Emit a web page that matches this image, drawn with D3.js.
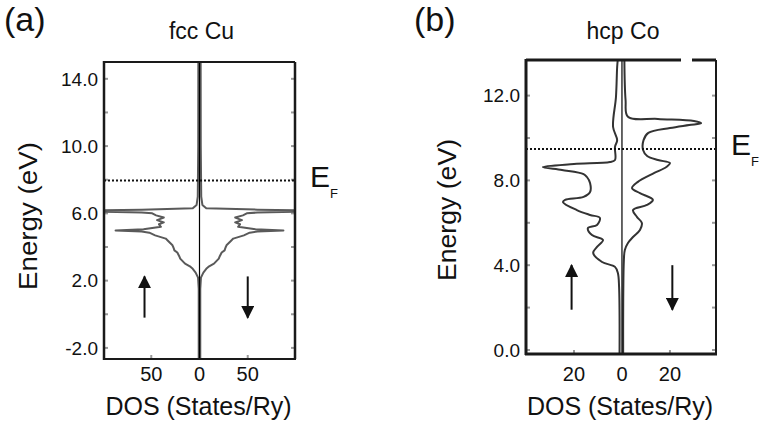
<!DOCTYPE html>
<html lang="en">
<head>
<meta charset="utf-8">
<title>DOS fcc Cu / hcp Co</title>
<script src="https://d3js.org/d3.v7.min.js"></script>
<style>
  body { margin: 0; background: #fff; }
  svg text { font-family: "Liberation Sans", Arial, sans-serif; fill: #111; }
</style>
</head>
<body>
<div id="canvas"></div>
<script>
// ---- data ----
// fcc Cu, same curve for both spins (energy eV, DOS states/Ry)
var cuEnergy = [15.0, 10.0, 7.0, 6.5, 6.3, 6.22, 6.16, 6.1, 6.05, 6.0, 5.88, 5.75, 5.6, 5.46, 5.35, 5.2, 5.05, 4.98, 4.92, 4.85, 4.69, 4.5, 4.39, 4.1, 3.97, 3.8, 3.67, 3.45, 3.31, 3.01, 2.85, 2.7, 2.48, 2.18, 1.5, -2.7];
var cuDos    = [1.2, 1.3, 1.8, 3.0, 7, 60, 115, 100, 60, 49, 45, 37, 44, 37, 42, 40, 58, 87, 60, 52, 46, 35, 33, 28, 27, 26, 23, 21, 20, 15, 10, 7, 4, 1.5, 0.8, 0.8];
// hcp Co, spin up (left)
var coUpEnergy = [13.75, 13.35, 11.93, 10.52, 9.9, 9.58, 8.96, 8.87, 8.77, 8.63, 8.49, 8.3, 8.16, 7.88, 7.45, 7.22, 7.08, 6.98, 6.6, 6.37, 6.23, 5.9, 5.75, 5.42, 5.19, 4.86, 4.58, 4.15, 3.92, 3.63, 2.97, -0.2];
var coUpDos    = [1.7, 2.0, 2.5, 3.7, 2.0, 2.9, 2.9, 5, 20, 33, 25, 16, 14.6, 13.3, 13.3, 16, 23.7, 24.6, 18.8, 13.3, 9.2, 10.4, 14.2, 12.5, 7.9, 10.4, 12, 8.3, 2.9, 1.7, 1.2, 1.0];
// hcp Co, spin down (right)
var coDownEnergy = [13.75, 11.8, 11.0, 10.9, 10.8, 10.7, 10.61, 10.47, 10.24, 9.9, 9.43, 9.15, 8.96, 8.82, 8.63, 8.35, 7.92, 7.64, 7.4, 7.08, 6.84, 6.6, 6.27, 5.99, 5.66, 5.33, 5.05, 4.72, 4.25, -0.2];
var coDownDos    = [1.0, 1.5, 2.5, 15, 30, 33, 28, 20, 11, 9, 8.8, 10.5, 15, 20, 18.5, 13.5, 6.5, 4.2, 7.5, 12.9, 10.4, 4.6, 6.3, 8.3, 7.5, 4.6, 2.5, 1.2, 0.8, 0.5];

var cuYTicks = [14, 10, 6, 2, -2];
var cuYMinor = [14, 12, 10, 8, 6, 4, 2, 0, -2];
var cuXTicks = [-50, 0, 50];
var coYTicks = [12, 8, 4, 0];
var coYMinor = [12, 10, 8, 6, 4, 2, 0];
var coXTicks = [-20, 0, 20];

var cuFermi = 7.95;
var coFermi = 9.48;

function pts(es, ds) {
    return es.map(function(e, i) { return {e: e, d: ds[i]}; });
}

var width = 760, height = 427;
var svg = d3.select("#canvas").append("svg")
    .attr("width", width)
    .attr("height", height);

var panels = [
    {
        id: "a", letter: "(a)", title: "fcc Cu", letterX: 4,
        left: 104, right: 295, top: 62, bottom: 359,
        xDomain: [-99, 99], yDomain: [-2.66, 15.0],
        yTicks: cuYTicks, yMinor: cuYMinor, xTicks: cuXTicks,
        fermi: cuFermi,
        up: pts(cuEnergy, cuDos), down: pts(cuEnergy, cuDos),
        curve: d3.curveLinear, curveColor: "#5a5a5a",
        arrowX: [-57, 50], arrowE: [-0.2, 2.25],
        yLabelX: 37, yLabelY: 216, yLabelLen: 148, frameW: [2, 2.5, 2, 2.5],
        efX: 310, efY: 187
    },
    {
        id: "b", letter: "(b)", title: "hcp Co", letterX: 414,
        left: 526, right: 716, top: 60, bottom: 354,
        xDomain: [-40, 39.2], yDomain: [-0.19, 13.68],
        yTicks: coYTicks, yMinor: coYMinor, xTicks: coXTicks,
        fermi: coFermi,
        up: pts(coUpEnergy, coUpDos), down: pts(coDownEnergy, coDownDos),
        curve: d3.curveCatmullRom.alpha(0.5), curveColor: "#333",
        arrowX: [-21, 21], arrowE: [1.9, 4.0],
        yLabelX: 456, yLabelY: 210, yLabelLen: 142, frameW: [3, 2, 3, 3],
        efX: 731, efY: 155
    }
];

// arrow head marker
svg.append("defs").append("marker")
    .attr("id", "head")
    .attr("viewBox", "0 0 10 10")
    .attr("refX", 9).attr("refY", 5)
    .attr("markerWidth", 6.5).attr("markerHeight", 6.5)
    .attr("markerUnits", "strokeWidth")
    .attr("orient", "auto")
    .append("path").attr("d", "M0,0 L10,5 L0,10 Z").attr("fill", "#111");

var fmt = d3.format(".1f");

panels.forEach(function(p) {
    var x = d3.scaleLinear().domain(p.xDomain).range([p.left, p.right]);
    var y = d3.scaleLinear().domain(p.yDomain).range([p.bottom, p.top]);
    var g = svg.append("g").attr("id", "panel-" + p.id);

    g.append("clipPath").attr("id", "clip-" + p.id)
        .append("rect")
        .attr("x", p.left).attr("y", p.top)
        .attr("width", p.right - p.left).attr("height", p.bottom - p.top);

    // minor ticks inside the frame, left and right
    p.yMinor.forEach(function(t) {
        g.append("line").attr("x1", p.left).attr("x2", p.left + 4)
            .attr("y1", y(t)).attr("y2", y(t))
            .attr("stroke", "#999").attr("stroke-width", 2);
        g.append("line").attr("x1", p.right - 4).attr("x2", p.right)
            .attr("y1", y(t)).attr("y2", y(t))
            .attr("stroke", "#999").attr("stroke-width", 2);
    });
    p.xTicks.filter(function(t) { return t != 0; }).forEach(function(t) {
        g.append("line").attr("x1", x(t)).attr("x2", x(t))
            .attr("y1", p.bottom - 4).attr("y2", p.bottom)
            .attr("stroke", "#999").attr("stroke-width", 2);
    });

    // DOS curves, spin up to the left, spin down to the right
    var lineUp = d3.line().curve(p.curve)
        .x(function(d) { return x(-d.d); })
        .y(function(d) { return y(d.e); });
    var lineDown = d3.line().curve(p.curve)
        .x(function(d) { return x(d.d); })
        .y(function(d) { return y(d.e); });
    var curves = g.append("g").attr("clip-path", "url(#clip-" + p.id + ")");
    curves.append("path").attr("d", lineUp(p.up))
        .attr("fill", "none").attr("stroke", p.curveColor).attr("stroke-width", 2)
        .attr("stroke-linejoin", "round");
    curves.append("path").attr("d", lineDown(p.down))
        .attr("fill", "none").attr("stroke", p.curveColor).attr("stroke-width", 2)
        .attr("stroke-linejoin", "round");

    // zero line
    g.append("line").attr("x1", x(0)).attr("x2", x(0))
        .attr("y1", p.top).attr("y2", p.bottom)
        .attr("stroke", "#000").attr("stroke-width", 1.2);

    // Fermi level
    g.append("line").attr("x1", p.left).attr("x2", p.right)
        .attr("y1", y(p.fermi)).attr("y2", y(p.fermi))
        .attr("stroke", "#111").attr("stroke-width", 2)
        .attr("stroke-dasharray", "2,2");

    // frame: top, right, bottom, left
    var fw = p.frameW;
    g.append("line").attr("x1", p.left).attr("x2", p.right).attr("y1", p.top).attr("y2", p.top)
        .attr("stroke", "#1a1a1a").attr("stroke-width", fw[0]);
    g.append("line").attr("x1", p.right).attr("x2", p.right).attr("y1", p.top).attr("y2", p.bottom)
        .attr("stroke", "#1a1a1a").attr("stroke-width", fw[1]);
    g.append("line").attr("x1", p.left - 1).attr("x2", p.right + 1).attr("y1", p.bottom).attr("y2", p.bottom)
        .attr("stroke", "#1a1a1a").attr("stroke-width", fw[2]);
    g.append("line").attr("x1", p.left).attr("x2", p.left).attr("y1", p.top - 1).attr("y2", p.bottom + 1)
        .attr("stroke", "#1a1a1a").attr("stroke-width", fw[3]);

    // spin arrows
    g.append("line").attr("x1", x(p.arrowX[0])).attr("x2", x(p.arrowX[0]))
        .attr("y1", y(p.arrowE[0])).attr("y2", y(p.arrowE[1]))
        .attr("stroke", "#111").attr("stroke-width", 2).attr("marker-end", "url(#head)");
    g.append("line").attr("x1", x(p.arrowX[1])).attr("x2", x(p.arrowX[1]))
        .attr("y1", y(p.arrowE[1])).attr("y2", y(p.arrowE[0]))
        .attr("stroke", "#111").attr("stroke-width", 2).attr("marker-end", "url(#head)");

    // tick labels
    g.selectAll(".ylab").data(p.yTicks).enter().append("text")
        .attr("class", "ylab")
        .attr("x", p.left - 6).attr("y", function(d) { return y(d); })
        .attr("dy", "0.36em")
        .attr("text-anchor", "end")
        .style("font-size", "19px")
        .text(function(d) { return fmt(d).replace("\u2212", "-"); });
    g.selectAll(".xlab").data(p.xTicks).enter().append("text")
        .attr("class", "xlab")
        .attr("x", function(d) { return x(d); }).attr("y", 381)
        .attr("text-anchor", "middle")
        .style("font-size", "20px")
        .text(function(d) { return Math.abs(d); });

    // titles and axis labels
    g.append("text").attr("x", p.letterX).attr("y", 31)
        .style("font-size", "34px").text(p.letter);
    g.append("text").attr("x", (p.left + p.right) / 2 + 2).attr("y", 39)
        .attr("text-anchor", "middle")
        .style("font-size", "23px").text(p.title);
    g.append("text").attr("x", (p.left + p.right) / 2 - 1).attr("y", 415)
        .attr("text-anchor", "middle")
        .style("font-size", "25px").text("DOS (States/Ry)");
    g.append("text")
        .attr("transform", "translate(" + p.yLabelX + "," + p.yLabelY + ") rotate(-90)")
        .attr("text-anchor", "middle")
        .attr("textLength", p.yLabelLen).attr("lengthAdjust", "spacingAndGlyphs")
        .style("font-size", "25px").text("Energy (eV)");

    // E_F label, one text with a subscript
    var ef = g.append("text").attr("x", p.efX).attr("y", p.efY)
        .style("font-size", "30px");
    ef.append("tspan").text("E");
    ef.append("tspan").attr("dy", 11).style("font-size", "13px").text("F");
});

// small white gap in the top frame of panel (b)
svg.append("rect").attr("x", 681).attr("y", 58).attr("width", 11).attr("height", 5).attr("fill", "#fff");
</script>
</body>
</html>
